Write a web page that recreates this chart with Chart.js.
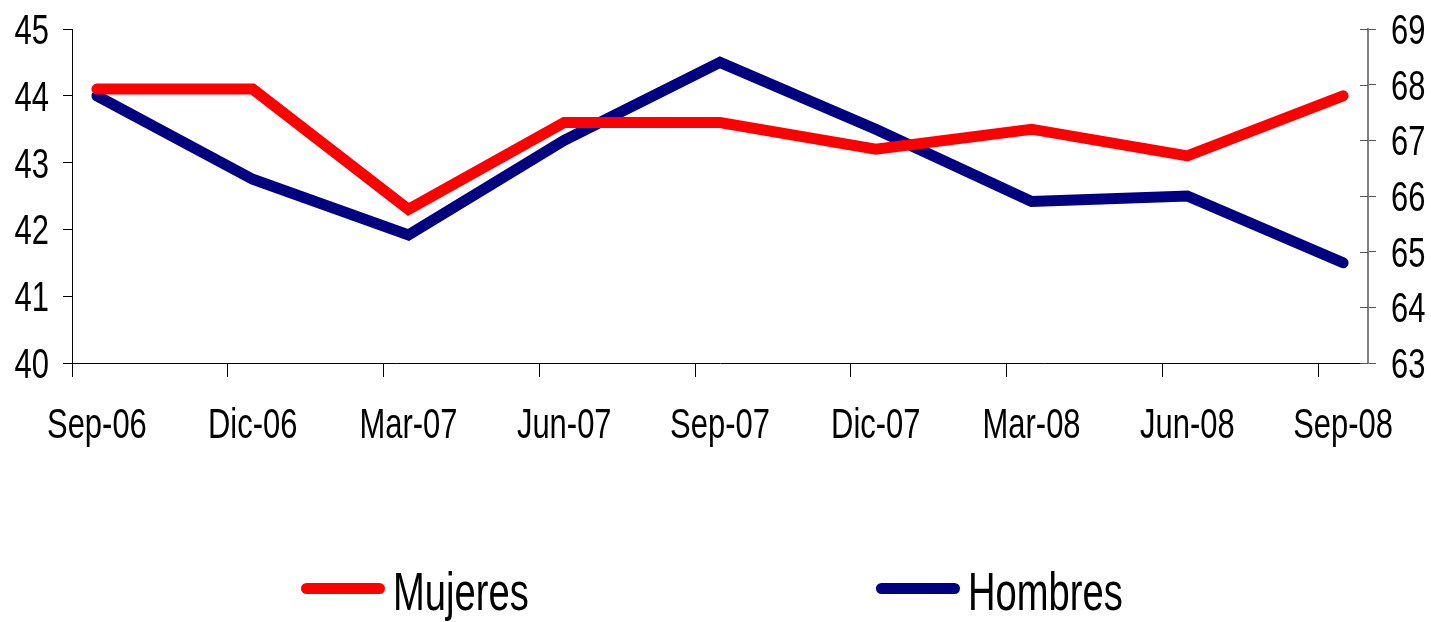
<!DOCTYPE html>
<html>
<head>
<meta charset="utf-8">
<script src="https://cdn.jsdelivr.net/npm/chart.js@4.4.0/dist/chart.umd.min.js"></script>
<style>
  html, body { margin: 0; padding: 0; background: #fff; }
  #wrap { position: relative; width: 1431px; height: 622px; }
  .swatch { position: absolute; top: 583px; height: 11px; border-radius: 6px; }
  .legtxt { position: absolute; top: 565px; font-family: "Liberation Sans", Arial, sans-serif; font-size: 53px;
            line-height: 53px; color: #000; white-space: nowrap; transform: scaleX(0.72); transform-origin: 0 0; }
</style>
</head>
<body>
<div id="wrap">
  <canvas id="myChart" width="1431" height="622"></canvas>
  <div class="swatch" style="left:301px; width:84px; background:#ff0000"></div>
  <div class="legtxt" style="left:393px">Mujeres</div>
  <div class="swatch" style="left:876px; width:84px; background:#000080"></div>
  <div class="legtxt" style="left:968px">Hombres</div>
</div>
<script>
var categories = ["Sep-06", "Dic-06", "Mar-07", "Jun-07", "Sep-07", "Dic-07", "Mar-08", "Jun-08", "Sep-08"];
var mujeres = [44.1, 44.1, 42.3, 43.6, 43.6, 43.2, 43.5, 43.1, 44.0];   // eje izquierdo
var hombres = [67.8, 66.3, 65.3, 67.0, 68.4, 67.2, 65.9, 66.0, 64.8];   // eje derecho
var leftTicks = [40, 41, 42, 43, 44, 45];
var rightTicks = [63, 64, 65, 66, 67, 68, 69];

var FONT = '"Liberation Sans", Arial, sans-serif';
var LABEL_SIZE = 43;
var SQUEEZE = 0.72;   // la fuente original es muy estrecha
var shift = 0.16;     // las marcas del eje x van un poco antes de cada punto

function toPoints(arr){
  return arr.map(function(v, i){ return {x: i, y: v}; });
}

// etiquetas estrechas + marcas que cruzan el eje derecho
var axisLabels = {
  id: 'axisLabels',
  afterDraw: function(chart){
    var ctx = chart.ctx;
    var sx = chart.scales.x, sy = chart.scales.y, sy1 = chart.scales.y1;
    ctx.save();
    ctx.fillStyle = '#000';
    ctx.font = LABEL_SIZE + 'px ' + FONT;
    ctx.textBaseline = 'alphabetic';
    function put(text, x, y, align){
      ctx.save();
      ctx.translate(x, y);
      ctx.scale(SQUEEZE, 1);
      ctx.textAlign = align;
      ctx.fillText(text, 0, 0);
      ctx.restore();
    }
    sx.ticks.forEach(function(t){
      if (Number.isInteger(t.value)) put(categories[t.value], sx.getPixelForValue(t.value), sx.top + 75, 'center');
    });
    sy.ticks.forEach(function(t){
      put(String(t.value), sy.right - 23, sy.getPixelForValue(t.value) + 15, 'right');
    });
    sy1.ticks.forEach(function(t){
      put(String(t.value), sy1.left + 23, sy1.getPixelForValue(t.value) + 15, 'left');
    });
    ctx.strokeStyle = '#555';
    ctx.lineWidth = 1;
    sy1.ticks.forEach(function(t){
      var y = Math.round(sy1.getPixelForValue(t.value)) + 0.5;
      ctx.beginPath();
      ctx.moveTo(sy1.left - 8, y);
      ctx.lineTo(sy1.left, y);
      ctx.stroke();
    });
    ctx.restore();
  }
};

var myChart = new Chart(document.getElementById("myChart"), {
  type: 'line',
  data: {
    datasets: [
      {
        label: 'Mujeres',
        data: toPoints(mujeres),
        borderColor: '#ff0000',
        backgroundColor: '#ff0000',
        borderWidth: 11,
        pointRadius: 0,
        borderCapStyle: 'round',
        yAxisID: 'y'
      },
      {
        label: 'Hombres',
        data: toPoints(hombres),
        borderColor: '#000080',
        backgroundColor: '#000080',
        borderWidth: 11,
        pointRadius: 0,
        borderCapStyle: 'round',
        yAxisID: 'y1'
      }
    ]
  },
  options: {
    responsive: false,
    animation: false,
    layout: { padding: { top: 29, bottom: 159, left: 0, right: 0 } },
    plugins: {
      legend: { display: false },
      tooltip: { enabled: false }
    },
    scales: {
      x: {
        type: 'linear',
        min: -shift,
        max: categories.length - 1 + shift,
        afterBuildTicks: function(scale){
          var t = [];
          for (var i = 0; i < categories.length; i++) {
            t.push({value: i - shift});
            t.push({value: i});
          }
          scale.ticks = t;
        },
        afterFit: function(scale){ scale.height = 100; },
        border: { display: true, color: '#000', width: 1 },
        grid: {
          drawOnChartArea: false,
          tickLength: 14,
          color: function(ctx){
            return (ctx.tick && Number.isInteger(ctx.tick.value)) ? 'rgba(0,0,0,0)' : '#000';
          }
        },
        ticks: { display: false }
      },
      y: {
        position: 'left',
        min: leftTicks[0],
        max: leftTicks[leftTicks.length - 1],
        afterBuildTicks: function(scale){
          scale.ticks = leftTicks.map(function(v){ return {value: v}; });
        },
        afterFit: function(scale){ scale.width = 72; },
        border: { display: true, color: '#000', width: 1 },
        grid: { drawOnChartArea: false, tickLength: 9, color: '#000' },
        ticks: { display: false }
      },
      y1: {
        position: 'right',
        min: rightTicks[0],
        max: rightTicks[rightTicks.length - 1],
        afterBuildTicks: function(scale){
          scale.ticks = rightTicks.map(function(v){ return {value: v}; });
        },
        afterFit: function(scale){ scale.width = 63; },
        border: { display: true, color: '#808080', width: 2 },
        grid: { drawOnChartArea: false, tickLength: 8, color: '#555' },
        ticks: { display: false }
      }
    }
  },
  plugins: [axisLabels]
});
</script>
</body>
</html>
